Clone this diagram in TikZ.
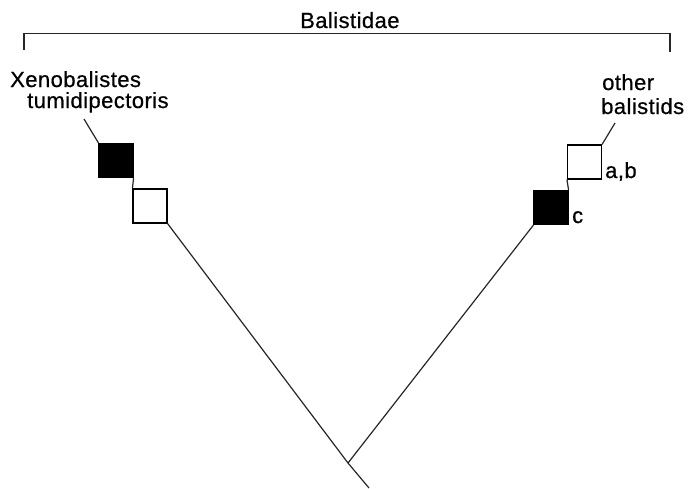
\documentclass[tikz,border=0pt]{standalone}
\usepackage{fontspec}
\setmainfont[LetterSpace=2,FakeBold=0.6]{Liberation Sans}
\begin{document}
\begin{tikzpicture}[x=1pt,y=-1pt,
  ln/.style={line width=1.2pt,black!85},
  sq/.style={draw,line width=1.1pt,minimum size=34pt,inner sep=0pt},
  lbl/.style={font=\fontsize{22}{24}\selectfont,inner sep=0pt,anchor=base west}]
\useasboundingbox (0,0) rectangle (692,488);
% bracket
\coordinate (bl) at (24,50);
\coordinate (br) at (670,52);
\draw[ln] (bl) -- (24,33.5) -- (670,33.5) -- (br);
\node[lbl] (fam) at (300,28) {Balistidae};
% labels
\node[lbl] (xen1) at (10,87) {Xenobalistes};
\node[lbl] (xen2) at (27,108) {tumidipectoris};
\node[lbl] (oth1) at (602,90) {other};
\node[lbl] (oth2) at (601,114) {balistids};
% squares
\node[sq,fill=black] (lb) at (116,160.5) {};
\node[sq,fill=white] (lw) at (150,206) {};
\node[sq,fill=black] (rb) at (551,207.5) {};
\node[sq,fill=white] (rw) at (584.5,162) {};
\node[lbl] (ab) at (605,178) {a,b};
\node[lbl] (c) at (572,223) {c};
% tree
\coordinate (ltip) at (84,119);
\coordinate (rtip) at (615,123);
\coordinate (junc) at (348,463);
\coordinate (root) at (369,488);
\draw[ln] (ltip) -- (lb.north west);
\draw[ln] (lb.south east) -- (lw.north west);
\draw[ln] (lw.south east) -- (junc) -- (root);
\draw[ln] (junc) -- (rb.south west);
\draw[ln] (rb.north east) -- (rw.south west);
\draw[ln] (rw.north east) -- (rtip);
\end{tikzpicture}
\end{document}
